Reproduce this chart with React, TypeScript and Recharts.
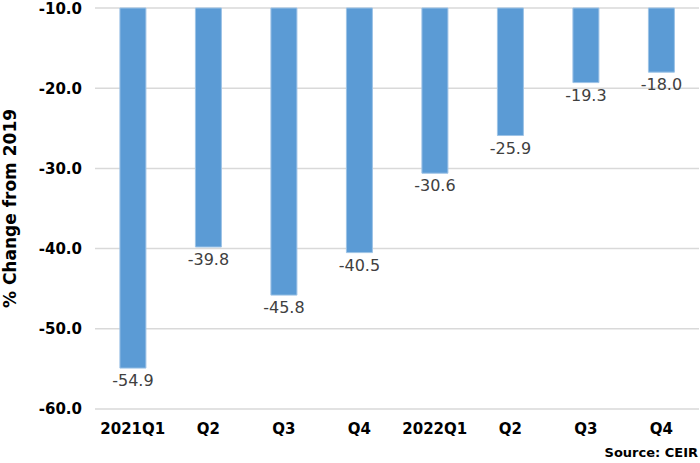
import { BarChart, Bar, XAxis, YAxis, CartesianGrid, LabelList, Label } from "recharts";

const quarters = ["2021Q1", "Q2", "Q3", "Q4", "2022Q1", "Q2", "Q3", "Q4"];
const changeFrom2019 = [-54.9, -39.8, -45.8, -40.5, -30.6, -25.9, -19.3, -18.0];
const yTicks = [-60, -50, -40, -30, -20, -10];

const data = quarters.map((q, i) => ({ key: i, name: q, value: changeFrom2019[i] }));

const FONT = "Verdana, 'DejaVu Sans', sans-serif";

const BelowLabel = (props: any) => {
  const { x, y, width, height, value } = props;
  const bottom = Math.max(y, y + height);
  return (
    <text
      x={x + width / 2}
      y={bottom + 18}
      textAnchor="middle"
      fill="#404040"
      fontSize={16}
      fontFamily={FONT}
    >
      {Number(value).toFixed(1)}
    </text>
  );
};

export default function App() {
  return (
    <div style={{ position: "absolute", left: 0, top: 0, width: 700, height: 463, background: "#fff", fontFamily: FONT }}>
      <BarChart
        width={700}
        height={463}
        data={data}
        margin={{ top: 8, right: 1, left: 0, bottom: 24 }}
        barCategoryGap="33%"
      >
        <CartesianGrid vertical={false} stroke="#D9D9D9" strokeWidth={1.5} />
        <XAxis
          dataKey="key"
          tickFormatter={(i: number) => quarters[i]}
          axisLine={false}
          tickLine={false}
          height={30}
          tickMargin={8}
          interval={0}
          tick={{ fill: "#000", fontSize: 15, fontWeight: 700, fontFamily: FONT }}
        />
        <YAxis
          domain={[-60, -10]}
          ticks={yTicks}
          width={95}
          axisLine={false}
          tickLine={false}
          tickMargin={7}
          tickFormatter={(v: number) => v.toFixed(1)}
          tick={{ fill: "#000", fontSize: 15, fontWeight: 700, fontFamily: FONT }}
        >
          <Label
            value="% Change from 2019"
            angle={-90}
            position="insideLeft"
            offset={10}
            style={{ fill: "#000", fontSize: 17, fontWeight: 700, fontFamily: FONT, textAnchor: "middle" }}
          />
        </YAxis>
        <Bar dataKey="value" fill="#5B9BD5" stroke="#9DC3E6" strokeWidth={1} isAnimationActive={false}>
          <LabelList dataKey="value" content={BelowLabel} />
        </Bar>
      </BarChart>
      <div
        style={{
          position: "absolute",
          right: 2,
          top: 445,
          fontSize: 13,
          fontWeight: 700,
          fontFamily: FONT,
          color: "#000",
        }}
      >
        Source: CEIR
      </div>
    </div>
  );
}
